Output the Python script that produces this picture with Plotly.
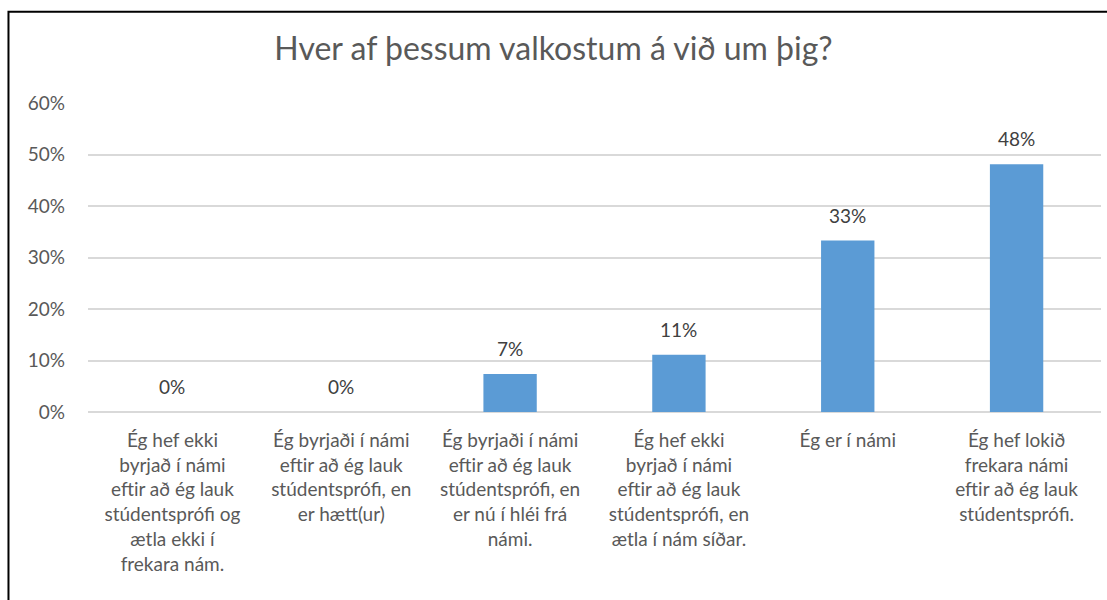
import plotly.graph_objects as go

categories = [
    "Ég hef ekki<br>byrjað í námi<br>eftir að ég lauk<br>stúdentsprófi og<br>ætla ekki í<br>frekara nám.",
    "Ég byrjaði í námi<br>eftir að ég lauk<br>stúdentsprófi, en<br>er hætt(ur)",
    "Ég byrjaði í námi<br>eftir að ég lauk<br>stúdentsprófi, en<br>er nú í hléi frá<br>námi.",
    "Ég hef ekki<br>byrjað í námi<br>eftir að ég lauk<br>stúdentsprófi, en<br>ætla í nám síðar.",
    "Ég er í námi",
    "Ég hef lokið<br>frekara námi<br>eftir að ég lauk<br>stúdentsprófi.",
]
values = [0.0, 0.0, 0.074, 0.111, 0.333, 0.481]
title_text = "Hver af þessum valkostum á við um þig?"

FONT = "Lato, 'Open Sans', sans-serif"
BAR = "#5b9bd5"
GRID = "#d9d9d9"
TXT = "#595959"

fig = go.Figure()
fig.add_trace(go.Bar(
    x=categories, y=values,
    marker=dict(color=BAR, line=dict(width=0)),
    hoverinfo="skip",
))

for c, v in zip(categories, values):
    fig.add_annotation(
        x=c, y=v, xref="x", yref="y",
        text=f"{v:.0%}", showarrow=False,
        yanchor="bottom", yshift=12,
        font=dict(family=FONT, size=19, color="#404040"),
    )

fig.add_shape(
    type="rect", xref="paper", yref="paper",
    x0=-0.0785, x1=1.06, y0=-0.7, y1=1.2955,
    line=dict(color="#000000", width=2), fillcolor="rgba(0,0,0,0)",
    layer="above",
)

fig.update_layout(
    width=1107, height=600,
    margin=dict(l=88, r=6, t=103, b=188),
    paper_bgcolor="white", plot_bgcolor="white",
    bargap=0.684,
    showlegend=False,
    hovermode=False,
    title=dict(
        text=title_text, x=0.5, xanchor="center", xref="container",
        y=0.918, yanchor="middle", yref="container",
        font=dict(family=FONT, size=32, color=TXT),
    ),
    font=dict(family=FONT, color=TXT),
    xaxis=dict(
        showgrid=False, showline=False, zeroline=False,
        tickfont=dict(family=FONT, size=19, color=TXT),
        tickangle=0, ticks="", ticklabelstandoff=15,
    ),
    yaxis=dict(
        range=[0, 0.6], dtick=0.1, tickformat=".0%",
        showgrid=True, gridcolor=GRID, gridwidth=2,
        zeroline=True, zerolinecolor=GRID, zerolinewidth=2,
        showline=False, ticks="",
        tickfont=dict(family=FONT, size=19, color=TXT),
        ticklabelstandoff=22,
    ),
)

fig.write_html(
    "out.html",
    config={"displayModeBar": False, "staticPlot": True},
    post_script="document.body.style.margin='0';",
)
